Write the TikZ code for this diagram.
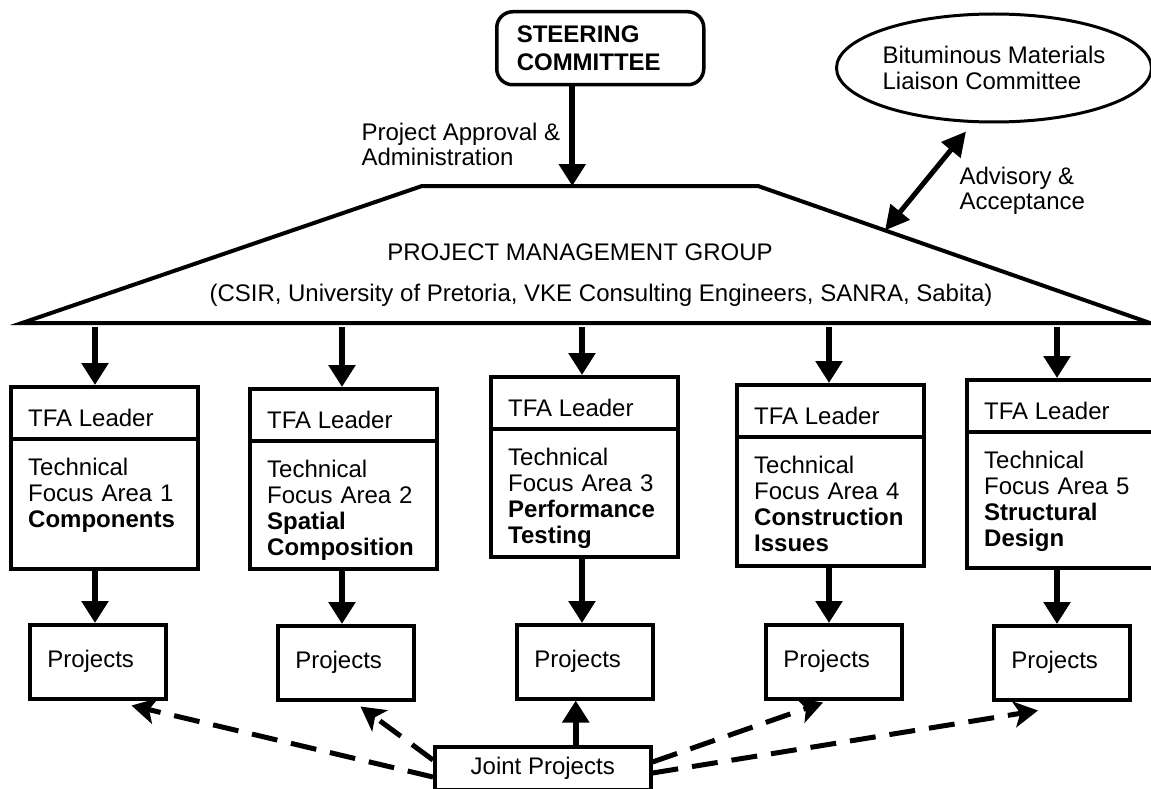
\documentclass[tikz,border=0pt]{standalone}
\usepackage{fontspec}
\setmainfont{Liberation Sans}
\usetikzlibrary{arrows.meta,shapes.geometric}

\begin{document}
\begin{tikzpicture}[x=1pt,y=-1pt,
    font=\fontsize{24}{26}\selectfont,
    box/.style={draw,line width=3.5pt,inner sep=0pt,anchor=north west},
    arr/.style={line width=6pt,-{Triangle[length=22pt,width=26pt]}},
    dasharr/.style={line width=5pt,dash pattern=on 26pt off 14pt,
        -{Stealth[length=24pt,width=26pt,inset=6pt]}}]
    \useasboundingbox (0,0) rectangle (1151,789);

    % Steering committee and liaison committee
    \node[box,rounded corners=16pt,minimum width=207pt,minimum height=73pt,
        inner xsep=20pt,text width=167pt,align=left,
        font=\fontsize{24}{28}\selectfont\bfseries] (steer) at (495,10) {STEERING\\COMMITTEE};
    \node[draw,ellipse,line width=3pt,minimum width=268pt,minimum height=108pt,
        inner sep=0pt,align=left] (bmlc) at (994,68) {Bituminous Materials\\Liaison Committee};

    % Management group
    \draw[line width=4pt] (22,323) -- (422,186) -- coordinate[pos=0.44] (pmgtop) (758,186)
        -- coordinate[pos=0.324] (advpt) (1150,323) -- cycle;
    \node (pmg) at (580,252) {PROJECT MANAGEMENT GROUP};
    \node (members) at (601,295) {(CSIR, University of Pretoria, VKE Consulting Engineers, SANRA, Sabita)};
    \coordinate (base) at (0,327);

    \node[anchor=west,align=left,font=\fontsize{24}{25}\selectfont] (appr) at (358,144) {Project Approval \&\\Administration};
    \node[anchor=west,align=left,font=\fontsize{24}{25}\selectfont] (advice) at (956,191) {Advisory \&\\Acceptance};

    \coordinate (stdown) at ([xshift=-28pt]steer.south);
    \draw[arr] (stdown) -- (stdown |- pmgtop);
    \draw[line width=5pt,{Triangle[length=24pt,width=24pt]}-{Triangle[length=24pt,width=24pt]}]
        (advpt) -- ([xshift=-28pt,yshift=-8pt]bmlc.south);

    % Technical focus areas
    \foreach \i/\x/\yt/\yb/\ax/\px/\py/\lbl in {
        1/9/385/567/95/28/623/{Components},
        2/248/387/567/342/276/624/{Spatial\\Composition},
        3/489/375/555/582/515/623/{Performance\\Testing},
        4/735/383/564/829/764/623/{Construction\\Issues},
        5/965/378/566/1057/992/624/{Structural\\Design}} {
        \node[box,minimum width=187pt,minimum height={(\yb-\yt)*1pt}] (tfa\i) at (\x,\yt) {};
        \draw[line width=3.5pt] ([yshift=-54pt]tfa\i.north west) -- ([yshift=-54pt]tfa\i.north east);
        \node[anchor=west,inner sep=0pt] (lead\i) at ([xshift=19pt,yshift=-33pt]tfa\i.north west) {TFA Leader};
        \node[anchor=north west,inner sep=0pt,text width=165pt,align=left] (area\i)
            at ([xshift=19pt,yshift=-73pt]tfa\i.north west) {Technical\\Focus Area \i\\\textbf{\lbl}};
        \node[box,minimum width=136pt,minimum height=74pt,inner xsep=17pt,text width=101pt,align=left]
            (proj\i) at (\px,\py) {Projects};
        \coordinate (top\i) at (\ax,0);
        \draw[arr] (top\i |- base) -- (top\i |- tfa\i.north);
        \draw[arr] (top\i |- tfa\i.south) -- (top\i |- proj\i.north);
    }

    % Joint projects
    \node[box,minimum width=216pt,minimum height=43pt] (joint) at (433,745) {Joint Projects};
    \coordinate (jp) at ([xshift=-9pt]proj3.south);
    \draw[arr] (jp |- joint.north) -- (jp);
    \draw[dasharr] ([yshift=-32pt]joint.north west) -- ([xshift=-36pt,yshift=-5pt]proj1.south east);
    \draw[dasharr] ([yshift=-15pt]joint.north west) -- ([xshift=-55pt,yshift=-5pt]proj2.south east);
    \draw[dasharr] ([yshift=-17pt]joint.north east) -- ([xshift=59pt,yshift=-2pt]proj4.south west);
    \draw[dasharr] ([yshift=-28pt]joint.north east) -- ([xshift=46pt,yshift=-9pt]proj5.south west);
\end{tikzpicture}
\end{document}
